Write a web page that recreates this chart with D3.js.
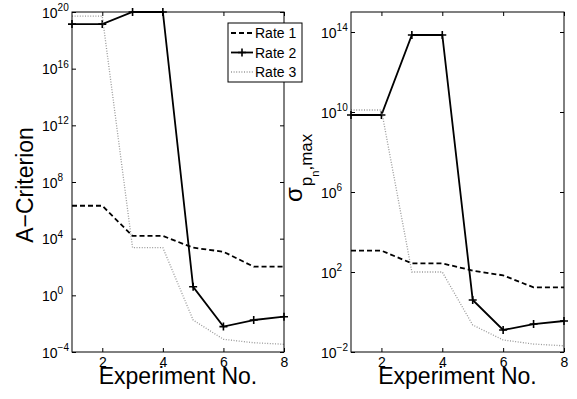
<!DOCTYPE html>
<html>
<head>
<meta charset="utf-8">
<title>A-criterion and sigma</title>
<script src="https://cdnjs.cloudflare.com/ajax/libs/d3/7.8.5/d3.min.js"></script>
<style>
  body { margin: 0; background: #fff; }
  text { font-family: "Liberation Sans", Arial, sans-serif; fill: #000; }
</style>
</head>
<body>
<script>
// experiment numbers
let expNo = [1, 2, 3, 4, 5, 6, 7, 8];

// left panel: A-criterion
let aRate1 = [2.1e6, 2.1e6, 1.55e4, 1.55e4, 2.3e3, 1.2e3, 1.05e2, 1.05e2];
let aRate2 = [1.4e19, 1.4e19, 1e20, 1e20, 4.0, 6.2e-3, 1.8e-2, 3.1e-2];
let aRate3 = [5.1e19, 5.1e19, 2.3e3, 2.3e3, 1.8e-2, 7.9e-4, 4.5e-4, 3.5e-4];

// right panel: sigma p_n,max
let sRate1 = [1.17e3, 1.17e3, 2.7e2, 2.7e2, 1.17e2, 6.8e1, 1.7e1, 1.7e1];
let sRate2 = [7.1e9, 7.1e9, 7.1e13, 7.1e13, 4.0, 0.126, 0.25, 0.355];
let sRate3 = [1.26e10, 1.26e10, 1e2, 1e2, 0.224, 0.04, 0.025, 0.0204];

let xTicks = [2, 4, 6, 8];
let aExps = [-4, 0, 4, 8, 12, 16, 20];
let sExps = [-2, 2, 6, 10, 14];
let legendLabels = ['Rate 1', 'Rate 2', 'Rate 3'];

let width = 577, height = 399;

let svg = d3.select('body').append('svg')
  .attr('width', width)
  .attr('height', height);

svg.append('rect').attr('width', width).attr('height', height).attr('fill', '#fff');

let styles = [
  { stroke: '#000', width: 1.8, dash: '5,3', marker: false },
  { stroke: '#000', width: 1.8, dash: null, marker: true },
  { stroke: '#999', width: 1.3, dash: '1,1.6', marker: false }
];

function panel(opts) {
  let x = d3.scaleLinear().domain([1, 8]).range([opts.left, opts.right]);
  let y = d3.scaleLog().domain(opts.ydomain).range([352, 12]);
  let g = svg.append('g');

  let line = d3.line().x((d, i) => x(expNo[i])).y(d => y(d));

  opts.series.forEach((s, k) => {
    let st = styles[k];
    g.append('path')
      .datum(s)
      .attr('d', line)
      .attr('fill', 'none')
      .attr('stroke', st.stroke)
      .attr('stroke-width', st.width)
      .attr('stroke-dasharray', st.dash);
    if (st.marker) {
      g.selectAll('.plus')
        .data(s)
        .enter()
        .append('path')
        .attr('d', (d, i) => {
          let px = x(expNo[i]), py = y(d);
          return `M${px - 4},${py}H${px + 4}M${px},${py - 4}V${py + 4}`;
        })
        .attr('stroke', '#000')
        .attr('stroke-width', 1.6);
    }
  });

  // box
  g.append('rect')
    .attr('x', opts.left).attr('y', 12)
    .attr('width', opts.right - opts.left).attr('height', 340)
    .attr('fill', 'none').attr('stroke', '#000').attr('stroke-width', 1);

  let yTickVals = opts.exps.map(e => Math.pow(10, e));

  // bottom axis with labels
  let bottom = g.append('g')
    .attr('transform', `translate(0,352)`)
    .call(d3.axisBottom(x).tickValues(xTicks).tickFormat(d3.format('d'))
      .tickSizeInner(-4).tickSizeOuter(0).tickPadding(5));
  bottom.select('.domain').remove();
  bottom.selectAll('text').attr('font-size', 14).attr('font-family', '"Liberation Sans", Arial, sans-serif');

  // top axis, ticks only
  let top = g.append('g')
    .attr('transform', `translate(0,12)`)
    .call(d3.axisTop(x).tickValues(xTicks).tickSizeInner(-4).tickSizeOuter(0).tickFormat(''));
  top.select('.domain').remove();

  // left axis
  let leftAx = g.append('g')
    .attr('transform', `translate(${opts.left},0)`)
    .call(d3.axisLeft(y).tickValues(yTickVals).tickSizeInner(-4).tickSizeOuter(0));
  leftAx.select('.domain').remove();
  leftAx.selectAll('text').each(function (d) {
    let t = d3.select(this);
    t.text(null)
      .attr('x', -30)
      .attr('dy', '0.36em')
      .attr('text-anchor', 'start')
      .attr('font-size', 14)
      .attr('font-family', '"Liberation Sans", Arial, sans-serif');
    t.append('tspan').text('10');
    t.append('tspan')
      .attr('font-size', 10)
      .attr('dy', '-0.65em')
      .text(String(Math.round(Math.log10(d))).replace('-', '\u2212'));
  });

  // right axis, ticks only
  let rightAx = g.append('g')
    .attr('transform', `translate(${opts.right},0)`)
    .call(d3.axisRight(y).tickValues(yTickVals).tickSizeInner(-4).tickSizeOuter(0).tickFormat(''));
  rightAx.select('.domain').remove();

  // x label
  g.append('text')
    .attr('x', (opts.left + opts.right) / 2)
    .attr('y', 384)
    .attr('text-anchor', 'middle')
    .attr('font-size', 23)
    .text('Experiment No.');

  return { g: g, x: x, y: y };
}

let leftP = panel({ left: 72, right: 284, ydomain: [1e-4, 1e20], exps: aExps, series: [aRate1, aRate2, aRate3] });
let rightP = panel({ left: 351, right: 564, ydomain: [1e-2, 1e15], exps: sExps, series: [sRate1, sRate2, sRate3] });

// y labels
svg.append('text')
  .attr('transform', 'translate(33,185) rotate(-90)')
  .attr('text-anchor', 'middle')
  .attr('font-size', 23)
  .text('A\u2212Criterion');

let sig = svg.append('text')
  .attr('transform', 'translate(302,202) rotate(-90)')
  .attr('text-anchor', 'start')
  .attr('font-size', 24);
sig.append('tspan').text('\u03c3');
sig.append('tspan').attr('font-size', 17).attr('dy', 10).attr('dx', 1).text('p');
sig.append('tspan').attr('font-size', 11).attr('dy', 7).text('n');
sig.append('tspan').attr('font-size', 17).attr('dy', -7).text(',max');

// legend
let leg = svg.append('g').attr('transform', 'translate(228,23)');
leg.append('rect')
  .attr('width', 74).attr('height', 59)
  .attr('fill', '#fff').attr('stroke', '#000').attr('stroke-width', 1);

legendLabels.forEach((lab, k) => {
  let st = styles[k];
  let cy = 10 + k * 19.5;
  leg.append('line')
    .attr('x1', 3).attr('x2', 25).attr('y1', cy).attr('y2', cy)
    .attr('stroke', st.stroke)
    .attr('stroke-width', st.width)
    .attr('stroke-dasharray', st.dash);
  if (st.marker) {
    leg.append('path')
      .attr('d', `M10,${cy}H18M14,${cy - 4}V${cy + 4}`)
      .attr('stroke', '#000').attr('stroke-width', 1.6);
  }
  leg.append('text')
    .attr('x', 27).attr('y', cy)
    .attr('dy', '0.36em')
    .attr('font-size', 14)
    .text(lab);
});
</script>
</body>
</html>
